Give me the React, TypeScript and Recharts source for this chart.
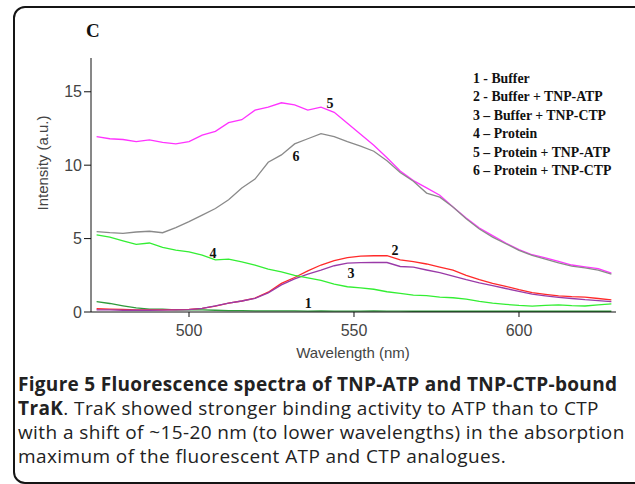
import { LineChart, Line, XAxis, YAxis, ReferenceDot } from 'recharts';

const wavelengths = [
  472, 476, 480, 484, 488, 492, 496, 500, 504, 508, 512, 516, 520, 524, 528, 532, 536, 540, 544, 548,
  552, 556, 560, 564, 568, 572, 576, 580, 584, 588, 592, 596, 600, 604, 608, 612, 616, 620, 624, 628,
];

const buffer = [
  0.7, 0.58, 0.42, 0.28, 0.2, 0.2, 0.15, 0.14, 0.15, 0.12, 0.1, 0.1, 0.08, 0.08, 0.07, 0.07, 0.06, 0.07, 0.06, 0.06,
  0.06, 0.07, 0.06, 0.06, 0.05, 0.06, 0.05, 0.05, 0.05, 0.05, 0.05, 0.05, 0.05, 0.05, 0.05, 0.05, 0.05, 0.05, 0.05, 0.05,
];
const bufferAtp = [
  0.22, 0.2, 0.18, 0.15, 0.15, 0.15, 0.16, 0.18, 0.24, 0.4, 0.6, 0.75, 0.95, 1.35, 1.95, 2.35, 2.8, 3.2, 3.5, 3.7,
  3.8, 3.83, 3.84, 3.55, 3.43, 3.27, 3.05, 2.85, 2.5, 2.2, 1.95, 1.75, 1.52, 1.32, 1.2, 1.1, 1.05, 1.02, 0.92, 0.82,
];
const bufferCtp = [
  0.15, 0.15, 0.12, 0.12, 0.12, 0.13, 0.14, 0.16, 0.24, 0.42, 0.6, 0.75, 0.93, 1.3, 1.85, 2.25, 2.58, 2.85, 3.15, 3.33,
  3.36, 3.38, 3.37, 3.1, 3.05, 2.86, 2.68, 2.45, 2.2, 1.98, 1.8, 1.6, 1.4, 1.22, 1.1, 1.0, 0.92, 0.84, 0.78, 0.7,
];
const protein = [
  5.25, 5.1, 4.85, 4.6, 4.7, 4.4, 4.22, 4.1, 3.88, 3.55, 3.6, 3.42, 3.2, 2.92, 2.73, 2.5, 2.32, 2.15, 1.9, 1.72,
  1.65, 1.55, 1.38, 1.27, 1.15, 1.12, 1.02, 0.97, 0.88, 0.72, 0.6, 0.52, 0.45, 0.4, 0.45, 0.48, 0.43, 0.41, 0.48, 0.55,
];
const proteinAtp = [
  11.95, 11.8, 11.75, 11.6, 11.72, 11.55, 11.45, 11.6, 12.05, 12.3, 12.9, 13.1, 13.75, 13.95, 14.25, 14.1, 13.75, 13.95, 13.6, 12.85,
  12.1, 11.35, 10.5, 9.6, 8.95, 8.45, 7.95, 7.15, 6.4, 5.72, 5.2, 4.7, 4.25, 3.9, 3.68, 3.45, 3.2, 3.08, 2.95, 2.65,
];
const proteinCtp = [
  5.47, 5.4, 5.35, 5.45, 5.5, 5.4, 5.75, 6.15, 6.6, 7.05, 7.65, 8.45, 9.05, 10.2, 10.7, 11.45, 11.8, 12.15, 11.95, 11.6,
  11.3, 10.95, 10.3, 9.5, 8.9, 8.1, 7.82, 7.15, 6.35, 5.65, 5.1, 4.65, 4.2, 3.85, 3.6, 3.35, 3.12, 3.0, 2.85, 2.58,
];

const legendLines = [
  '1 - Buffer',
  '2 - Buffer + TNP-ATP',
  '3 \u2013 Buffer + TNP-CTP',
  '4 \u2013 Protein',
  '5 \u2013 Protein + TNP-ATP',
  '6 \u2013 Protein + TNP-CTP',
];

// curve numbers, placed in data coordinates
const curveTags = [
  { tag: '1', nm: 536.1, v: 0.61 },
  { tag: '2', nm: 562.4, v: 4.23 },
  { tag: '3', nm: 549.1, v: 2.66 },
  { tag: '4', nm: 507.3, v: 4.02 },
  { tag: '5', nm: 542.7, v: 14.25 },
  { tag: '6', nm: 532.4, v: 10.64 },
];

const series = [
  { key: 'buffer', color: '#2e9a3a' },
  { key: 'bufferAtp', color: '#ff2a2a' },
  { key: 'bufferCtp', color: '#9a3aa8' },
  { key: 'protein', color: '#33ee33' },
  { key: 'proteinAtp', color: '#ff33ff' },
  { key: 'proteinCtp', color: '#8a8a8a' },
];

const data = wavelengths.map((nm, i) => ({
  nm,
  buffer: buffer[i],
  bufferAtp: bufferAtp[i],
  bufferCtp: bufferCtp[i],
  protein: protein[i],
  proteinAtp: proteinAtp[i],
  proteinCtp: proteinCtp[i],
}));

const serif = '"Liberation Serif", "Times New Roman", serif';
const sans = '"Liberation Sans", Arial, sans-serif';

export default function App() {
  return (
    <div
      style={{
        position: 'absolute',
        left: 0,
        top: 0,
        width: 635,
        height: 484,
        overflow: 'hidden',
        background: '#fff',
      }}
    >
      <div
        style={{
          position: 'absolute',
          left: 13,
          top: 6,
          width: 640,
          height: 474,
          border: '2px solid #151515',
          borderRadius: 12,
        }}
      />
      <LineChart
        width={635}
        height={484}
        data={data}
        margin={{ top: 58, right: 19, left: 51, bottom: 142 }}
        style={{ position: 'absolute', left: 0, top: 0 }}
      >
        <XAxis
          dataKey="nm"
          type="number"
          domain={[470.3, 629.4]}
          ticks={[500, 550, 600]}
          allowDataOverflow
          height={30}
          tickSize={5}
          tickMargin={8}
          stroke="#111"
          tick={{ fontSize: 16, fill: '#444', fontFamily: sans }}
        />
        <YAxis
          type="number"
          domain={[0, 17.3]}
          ticks={[0, 5, 10, 15]}
          allowDataOverflow
          width={40}
          tickSize={7}
          tickMargin={2}
          stroke="#111"
          tick={{ fontSize: 16, fill: '#444', fontFamily: sans }}
        />
        {series.map((s) => (
          <Line
            key={s.key}
            dataKey={s.key}
            stroke={s.color}
            strokeWidth={1.3}
            dot={false}
            type="linear"
            isAnimationActive={false}
          />
        ))}
        {curveTags.map((c) => (
          <ReferenceDot
            key={c.tag}
            x={c.nm}
            y={c.v}
            r={0}
            fill="none"
            stroke="none"
            label={{
              value: c.tag,
              position: 'center',
              fontSize: 14,
              fontWeight: 'bold',
              fontFamily: serif,
              fill: '#111',
            }}
          />
        ))}
      </LineChart>

      <div style={{ position: 'absolute', left: 86, top: 20, fontFamily: serif, fontWeight: 'bold', fontSize: 19, color: '#111' }}>
        C
      </div>

      <div style={{ position: 'absolute', left: 473, top: 70, fontFamily: serif, fontWeight: 'bold', fontSize: 13.8, lineHeight: '18.4px', color: '#111', whiteSpace: 'nowrap' }}>
        {legendLines.map((t) => (
          <div key={t}>{t}</div>
        ))}
      </div>

      <div
        style={{
          position: 'absolute',
          left: 42,
          top: 163,
          transform: 'translate(-50%, -50%) rotate(-90deg)',
          fontFamily: sans,
          fontSize: 15,
          color: '#444',
          whiteSpace: 'nowrap',
        }}
      >
        Intensity (a.u.)
      </div>

      <div
        style={{
          position: 'absolute',
          left: 353,
          top: 352,
          transform: 'translate(-50%, -50%)',
          fontFamily: sans,
          fontSize: 15,
          color: '#444',
          whiteSpace: 'nowrap',
        }}
      >
        Wavelength (nm)
      </div>

      <div
        style={{
          position: 'absolute',
          left: 18,
          top: 372,
          fontFamily: '"Open Sans", sans-serif',
          fontSize: 19,
          letterSpacing: 0.4,
          lineHeight: '24px',
          color: '#222',
          whiteSpace: 'nowrap',
        }}
      >
        <div style={{ fontWeight: 'bold', letterSpacing: 0.3 }}>Figure 5 Fluorescence spectra of TNP-ATP and TNP-CTP-bound</div>
        <div>
          <b>TraK</b>. TraK showed stronger binding activity to ATP than to CTP
        </div>
        <div>with a shift of ~15-20 nm (to lower wavelengths) in the absorption</div>
        <div>maximum of the fluorescent ATP and CTP analogues.</div>
      </div>
    </div>
  );
}
